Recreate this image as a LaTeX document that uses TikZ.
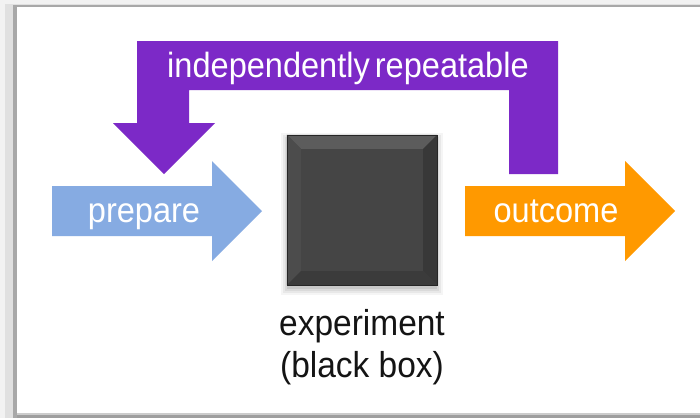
\documentclass[tikz,border=0pt]{standalone}
\usepackage{fontspec}
\newfontfamily\lblfont[FakeStretch=0.93]{Liberation Sans}
\definecolor{loopviolet}{RGB}{124,41,199}
\definecolor{prepblue}{RGB}{134,171,226}
\definecolor{outorange}{RGB}{255,153,0}
\definecolor{boxface}{RGB}{69,69,69}
\tikzset{
  arrowtext/.style={text=white, font=\lblfont\fontsize{35}{40}\selectfont, inner sep=0pt, anchor=base},
  captiontext/.style={text=black!92, font=\lblfont\fontsize{36}{42}\selectfont, inner sep=0pt, anchor=base, align=center},
}
\begin{document}
\begin{tikzpicture}[x=1pt,y=-1pt]
\useasboundingbox (0,0) rectangle (700,418);
% panel frame with its shaded edges
\fill[black!5]  (0,0) rectangle (700,418);
\fill[black!12] (5,4) rectangle (700,418);
\fill[black!34] (13,5) rectangle (700,418);
\fill[white] (17,7) rectangle (700,413);
\fill[black!20] (17,413) rectangle (700,415);
\fill[black!38] (17,415) rectangle (700,418);

% repeat loop: bar over the top, down-pointing head on the left
\fill[loopviolet] (164,174) -- (113,123) -- (137,123) -- (137,41) -- (558,41)
  -- (558,174) -- (509,174) -- (509,90) -- (189,90) -- (189,123) -- (215,123) -- cycle;
\node[arrowtext] (rep) at (348,77) {independently\hspace{5pt}repeatable};

% input and output arrows
\fill[prepblue] (52,186) -- (212,186) -- (212,161) -- (262,211) -- (212,261) -- (212,236) -- (52,236) -- cycle;
\node[arrowtext] (prep) at (144,222) {prepare};
\fill[outorange] (465,186) -- (625,186) -- (625,161) -- (675,211) -- (625,261) -- (625,236) -- (465,236) -- cycle;
\node[arrowtext] (out) at (556,222) {outcome};

% the black box with a soft drop shadow and bevelled edges
\foreach \s/\o in {8/0.04,6/0.05,4/0.06,2/0.08}
  \fill[black,opacity=\o] (287-\s+2,135-\s+6) rectangle (437+\s-2,285+\s+2);
\node[minimum size=150pt, inner sep=0pt, fill=boxface] (box) at (362,210) {};
\fill[black!64] (box.north west) -- (box.north east) -- ([shift={(-14,14)}]box.north east) -- ([shift={(14,14)}]box.north west) -- cycle;
\fill[black!70] (box.north west) -- ([shift={(14,14)}]box.north west) -- ([shift={(14,-14)}]box.south west) -- (box.south west) -- cycle;
\fill[black!78] (box.north east) -- ([shift={(-14,14)}]box.north east) -- ([shift={(-14,-14)}]box.south east) -- (box.south east) -- cycle;
\fill[black!77] (box.south west) -- ([shift={(14,-14)}]box.south west) -- ([shift={(-14,-14)}]box.south east) -- (box.south east) -- cycle;
\fill[boxface] ([shift={(14,14)}]box.north west) rectangle ([shift={(-14,-14)}]box.south east);
\draw[black!85, line width=0.6pt] (box.north west) rectangle (box.south east);

\node[captiontext] (cap1) at (362,335) {experiment};
\node[captiontext] (cap2) at (362,377) {(black box)};
\end{tikzpicture}
\end{document}
